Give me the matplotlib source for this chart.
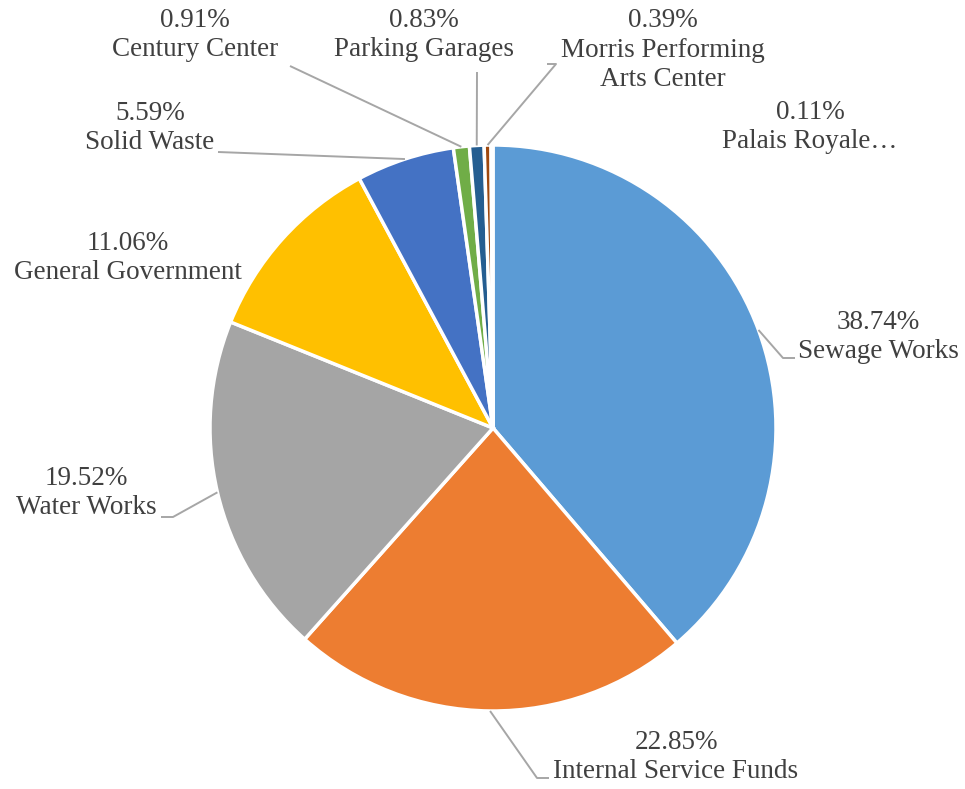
import numpy as np
import matplotlib.pyplot as plt

# Fund shares (percent of total)
labels = ['Sewage Works', 'Internal Service Funds', 'Water Works', 'General Government',
          'Solid Waste', 'Century Center', 'Parking Garages',
          'Morris Performing\nArts Center', 'Palais Royale…']
values = [38.74, 22.85, 19.52, 11.06, 5.59, 0.91, 0.83, 0.39, 0.11]
colors = ['#5B9BD5', '#ED7D31', '#A5A5A5', '#FFC000', '#4472C4',
          '#70AD47', '#255E91', '#9E480E', '#636363']

W, H = 965, 789
cx, cy, R = 493, H - 428, 283

# label text centres and leader-line elbows, in pixels from top-left
label_pos = [(878, 337), (676, 757), (86, 493), (128, 258), (150, 128),
             (195, 35), (424, 35), (663, 50), (810, 127)]
elbows = [[(783, 358), (795, 358)], [(537, 778), (549, 778)],
          [(173, 517), (161, 517)], None, [(218, 152)],
          [(290, 66)], [(477, 72)], [(556, 64), (547, 64)], None]

fig = plt.figure(figsize=(W / 100, H / 100), dpi=100)
ax = fig.add_axes([0, 0, 1, 1])

wedges, _ = ax.pie(values, colors=colors, startangle=90, counterclock=False,
                   center=(cx, cy), radius=R, frame=True,
                   wedgeprops=dict(edgecolor='white', linewidth=2.5))
ax.set_xlim(0, W)
ax.set_ylim(0, H)
ax.set_aspect('equal')
ax.axis('off')

for w, lab, v, (tx, ty), el in zip(wedges, labels, values, label_pos, elbows):
    mid = np.deg2rad((w.theta1 + w.theta2) / 2)
    ax.text(tx, H - ty, f'{v:.2f}%\n{lab}', ha='center', va='center',
            multialignment='center', fontsize=19.5, color='#404040',
            family='Liberation Serif', linespacing=1.22)
    if el is not None:
        pts = [(cx + R * np.cos(mid), cy + R * np.sin(mid))] + [(x, H - y) for x, y in el]
        xs, ys = zip(*pts)
        ax.plot(xs, ys, color='#A6A6A6', lw=1.4, solid_capstyle='butt')

fig.savefig('out.png', dpi=100)
